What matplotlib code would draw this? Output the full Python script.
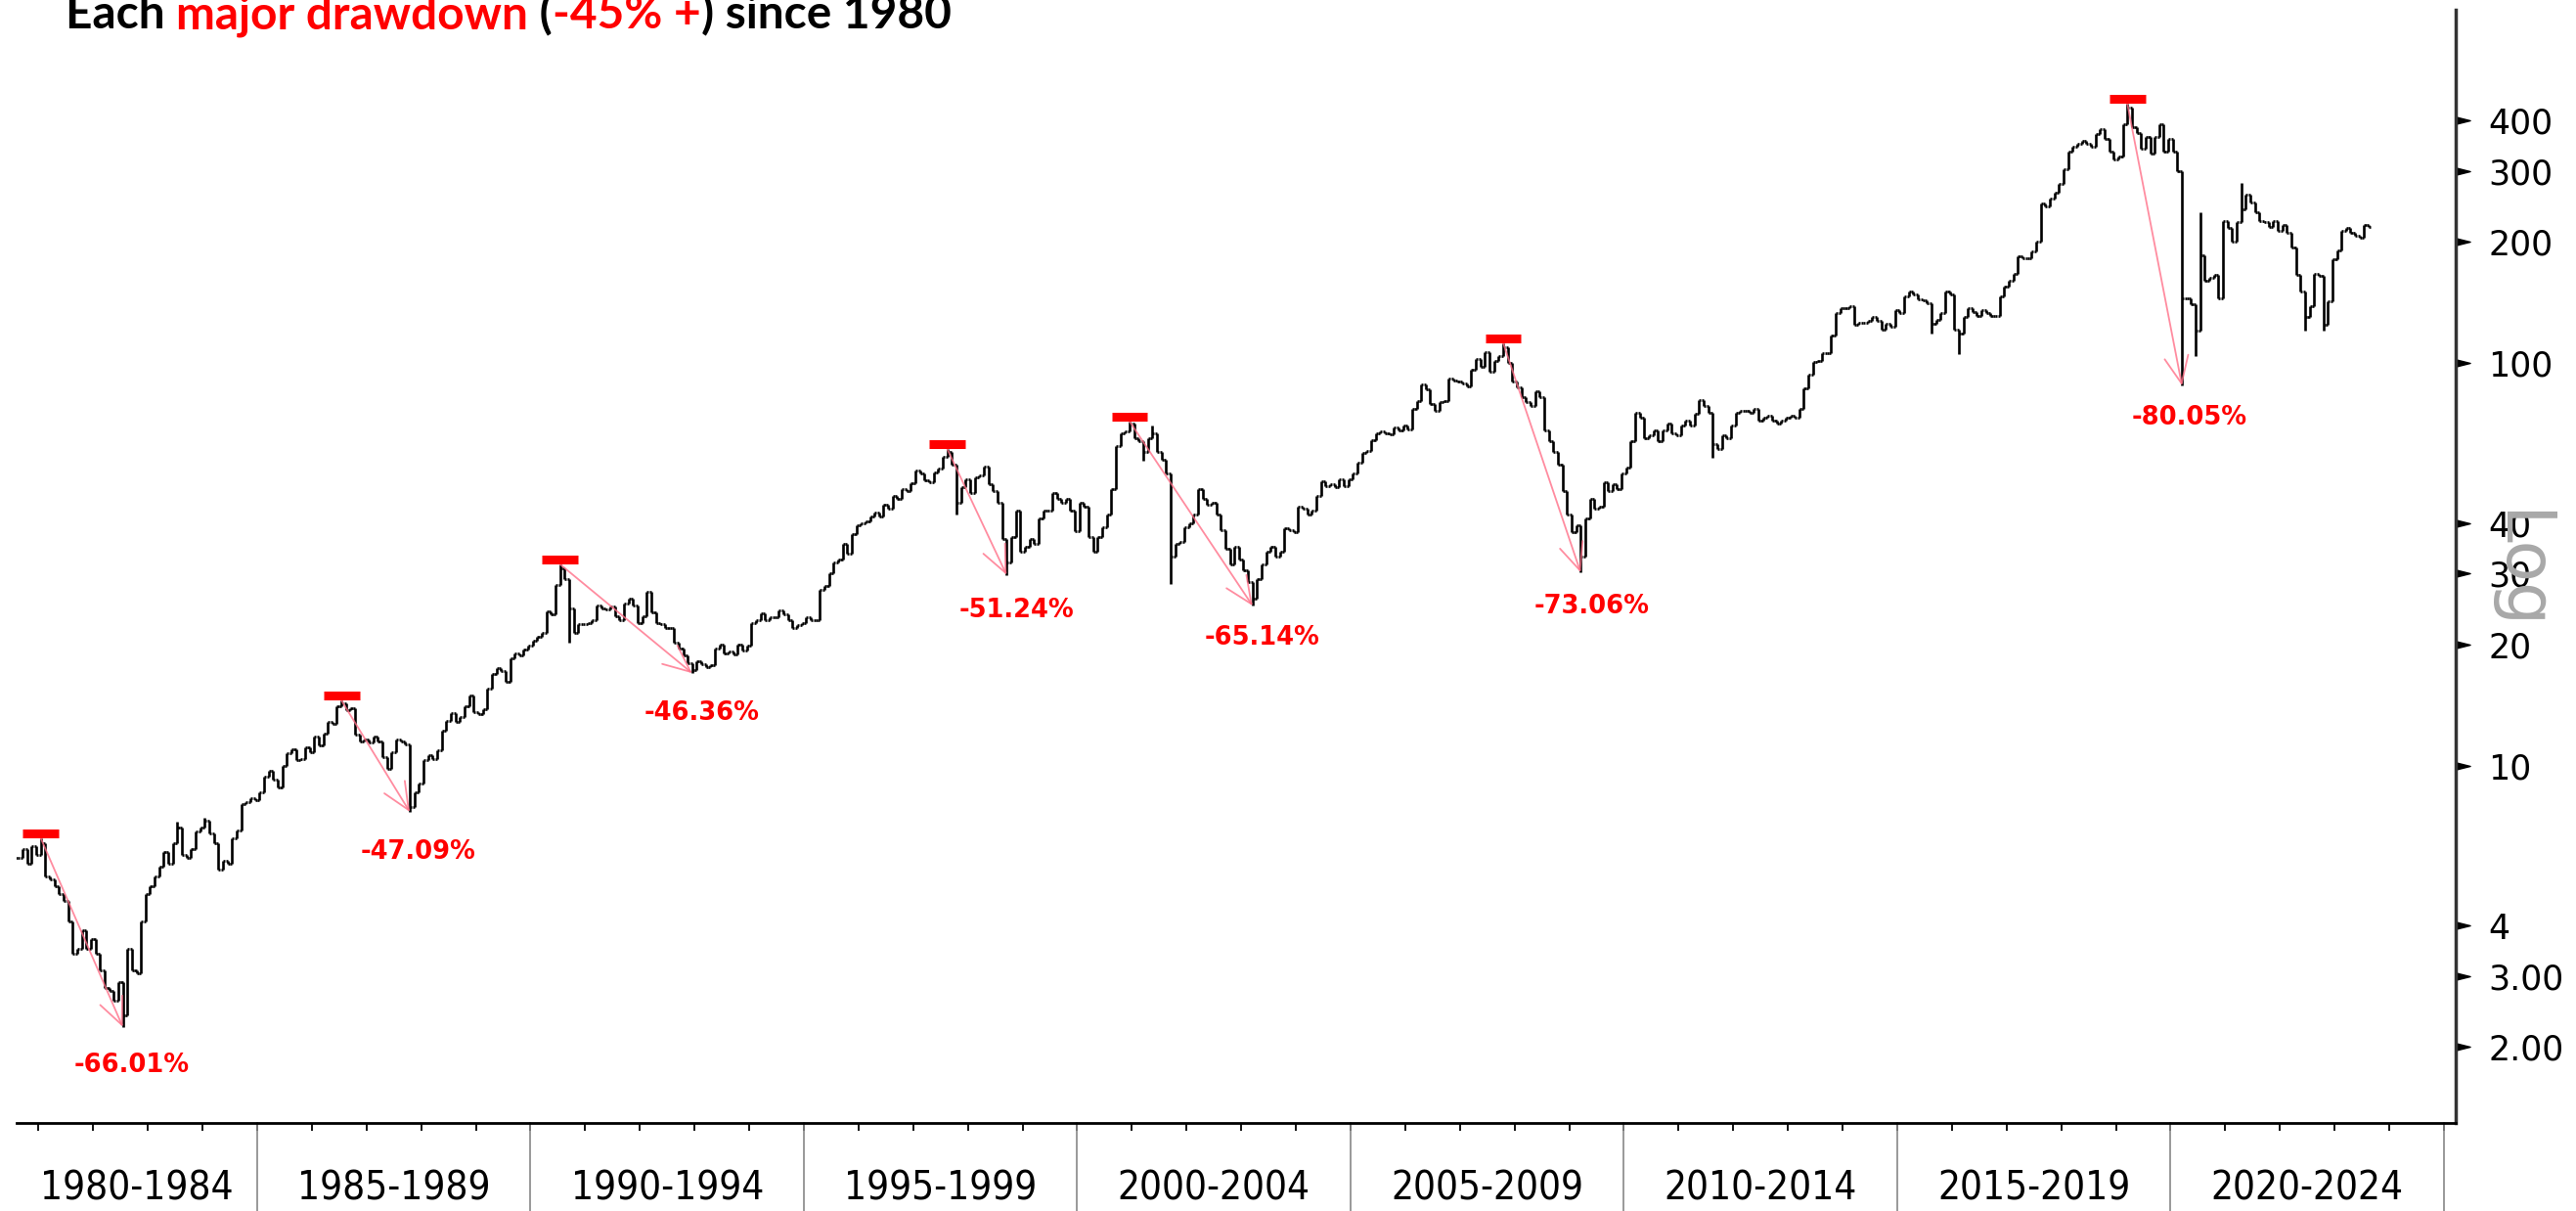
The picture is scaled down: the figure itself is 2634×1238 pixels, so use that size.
import numpy as np
import matplotlib
matplotlib.use("Agg")
import matplotlib.pyplot as plt
from matplotlib import font_manager
from matplotlib.collections import LineCollection
from matplotlib.path import Path
from matplotlib.transforms import blended_transform_factory, offset_copy

# monthly closes, Aug 1980 .. Aug 2023
close_1980s = [
    5.9, 6.2, 5.7, 6.3, 6.0,
    6.4, 5.3, 5.2, 5.0, 4.8, 4.6, 4.1, 3.4, 3.5, 3.9, 3.5, 3.7,
    3.4, 3.1, 2.8, 2.75, 2.6, 2.9, 2.4, 3.5, 3.1, 3.05, 4.1, 4.8,
    5.0, 5.3, 5.6, 6.1, 5.7, 6.4, 7.0, 6.0, 5.9, 6.2, 6.85, 7.0,
    7.3, 6.8, 6.4, 5.5, 5.8, 5.7, 6.6, 6.9, 8.0, 8.1, 8.3, 8.2,
    8.6, 9.4, 9.7, 9.2, 8.8, 10.0, 10.7, 11.0, 10.3, 10.4, 11.1, 10.8,
    11.8, 11.2, 12.0, 12.8, 12.7, 14.0, 14.3, 13.7, 13.9, 11.9, 11.5, 11.6,
    11.4, 11.8, 11.5, 10.5, 9.8, 10.8, 11.6, 11.5, 11.3, 7.9, 8.6, 9.0,
    10.3, 10.6, 10.4, 10.9, 12.2, 12.9, 13.5, 12.8, 13.2, 14.0, 14.9, 13.6,
    13.4, 13.8, 15.5, 16.9, 17.5, 17.2, 16.1, 18.5, 19.0, 18.8, 19.4, 19.8,
]
close_1990s = [
    20.4, 20.9, 21.3, 24.1, 23.8, 28.1, 30.9, 29.0, 24.5, 21.3, 22.5, 22.4,
    22.6, 22.9, 25.0, 24.5, 24.4, 24.8, 23.5, 23.0, 25.3, 26.0, 25.0, 22.6,
    23.5, 27.0, 24.0, 22.6, 22.4, 22.0, 21.9, 20.2, 19.5, 18.8, 17.9, 17.3,
    18.2, 17.8, 17.6, 17.7, 19.5, 20.0, 19.0, 19.2, 18.9, 20.0, 19.3, 19.8,
    22.6, 23.0, 23.9, 23.0, 23.3, 23.4, 24.3, 23.7, 23.0, 22.0, 22.3, 22.6,
    23.3, 23.0, 22.9, 27.3, 28.0, 30.0, 32.0, 32.5, 35.5, 33.5, 37.5, 39.5,
    40.0, 40.5, 41.5, 42.5, 41.5, 44.5, 43.5, 46.8, 46.0, 48.5, 48.0, 50.3,
    54.0, 53.0, 51.0, 50.5, 53.5, 54.5, 58.5, 60.0, 56.0, 45.0, 49.0, 51.5,
    47.5, 52.0, 52.5, 55.3, 50.0, 48.0, 45.0, 36.5, 32.0, 37.0, 43.0, 34.0,
    35.0, 36.5, 35.5, 41.0, 43.0, 43.0, 47.5, 46.0, 45.0, 46.0, 43.0, 38.2,
]
close_2000s = [
    45.0, 44.0, 37.0, 34.0, 37.0, 39.0, 42.0, 48.5, 62.0, 67.0, 67.5, 70.5,
    65.0, 64.0, 60.0, 65.0, 67.0, 60.0, 57.5, 53.0, 33.0, 35.5, 36.0, 39.0,
    40.0, 42.0, 48.5, 46.0, 44.5, 45.0, 42.0, 38.5, 34.5, 31.5, 35.0, 32.5,
    30.5, 28.5, 26.0, 29.0, 31.5, 34.0, 35.0, 33.0, 34.0, 38.8, 38.5, 38.0,
    44.0, 43.5, 42.0, 43.0, 46.8, 50.7, 49.5, 50.0, 49.0, 51.5, 49.5, 51.4,
    53.0, 56.5, 59.8, 60.5, 64.3, 67.0, 67.5, 67.0, 66.5, 69.0, 68.0, 70.0,
    68.5, 77.0, 80.4, 88.5, 86.0, 79.0, 76.0, 80.0, 80.4, 91.5, 90.5, 90.0,
    89.0, 87.5, 96.0, 102.0, 98.0, 106.5, 95.0, 101.0, 104.0, 109.5, 100.0, 90.0,
    87.0, 82.0, 80.0, 78.0, 85.0, 82.0, 68.0, 64.0, 60.0, 56.0, 48.0, 42.0,
    38.0, 39.5, 33.0, 41.0, 46.0, 43.5, 44.0, 50.6, 48.0, 50.0, 48.6, 53.0,
]
close_2010s = [
    55.0, 64.0, 75.0, 73.0, 65.0, 66.0, 68.0, 64.0, 68.0, 70.7, 67.0, 66.0,
    70.0, 72.0, 70.0, 74.7, 80.8, 78.0, 75.0, 63.0, 61.0, 66.0, 65.0, 70.0,
    75.0, 76.0, 76.0, 75.0, 77.0, 72.0, 73.0, 74.0, 72.0, 70.7, 72.0, 73.0,
    74.0, 73.0, 77.0, 86.5, 93.5, 100.5, 101.0, 106.0, 106.0, 117.0, 133.0, 137.0,
    137.0, 138.0, 124.0, 126.0, 125.6, 127.0, 130.0, 127.0, 121.0, 125.0, 123.0, 135.0,
    133.0, 146.0, 150.0, 148.0, 144.0, 143.0, 141.0, 125.0, 128.0, 133.0, 150.0, 148.0,
    121.0, 118.0, 130.0, 137.0, 134.0, 131.0, 135.0, 133.0, 131.0, 131.0, 146.0, 155.0,
    160.0, 166.0, 184.0, 182.0, 182.0, 189.0, 200.0, 249.0, 245.0, 256.0, 265.0, 278.0,
    303.0, 335.0, 345.0, 350.0, 355.0, 350.0, 344.0, 370.0, 380.0, 360.0, 335.0, 320.0,
    325.0, 392.0, 430.0, 385.0, 372.0, 340.0, 364.0, 330.0, 364.0, 392.0, 335.0, 360.0,
]
close_2020s = [
    335.0, 300.0, 145.0, 145.0, 140.0, 120.0, 185.0, 160.0, 163.0, 165.0, 145.0, 225.0,
    216.0, 200.0, 224.0, 240.0, 262.0, 250.0, 237.0, 225.0, 224.0, 218.0, 225.0, 213.0,
    220.0, 210.0, 193.0, 165.0, 150.0, 130.0, 138.0, 166.0, 164.0, 124.0, 142.0, 181.0,
    190.0, 213.0, 216.0, 210.0, 207.0, 205.0, 220.0, 217.0,
]
first_month = (1980, 8)

# intra-month extremes that stick out past the open/close
wick_high = {"1981-01": 6.6, "1983-07": 7.26, "1984-01": 7.42, "1986-07": 14.5,
             "1990-07": 31.6, "1997-08": 61.0, "2000-12": 71.5, "2001-05": 70.0,
             "2007-10": 112.0, "2019-03": 440.0, "2020-07": 236.0, "2021-04": 280.0}
wick_low = {"1982-07": 2.243, "1987-10": 7.67, "1990-09": 20.2, "1992-12": 16.95,
            "1997-10": 42.0, "1998-09": 29.74, "2001-03": 57.0, "2001-09": 28.3,
            "2003-03": 24.93, "2009-03": 30.17, "2011-08": 58.0, "2015-08": 118.0,
            "2016-02": 105.0, "2020-03": 87.8, "2020-06": 104.0, "2022-06": 120.0,
            "2022-10": 120.0}

# drawdowns: peak month, trough month, label, label position (year, value)
dd_peak = ["1981-01", "1986-07", "1990-07", "1997-08", "2000-12", "2007-10", "2019-03"]
dd_trough = ["1982-07", "1987-10", "1992-12", "1998-09", "2003-03", "2009-03", "2020-03"]
dd_label = ["-66.01%", "-47.09%", "-46.36%", "-51.24%", "-65.14%", "-73.06%", "-80.05%"]
dd_label_pos = [(1982.71, 1.80), (1987.95, 6.10), (1993.14, 13.5), (1998.90, 24.3),
                (2003.39, 20.8), (2009.42, 24.8), (2020.35, 73.1)]

y_ticks = [2, 3, 4, 10, 20, 30, 40, 100, 200, 300, 400]
y_tick_labels = ["2.00", "3.00", "4", "10", "20", "30", "40", "100", "200", "300", "400"]
period_edges = [1980, 1985, 1990, 1995, 2000, 2005, 2010, 2015, 2020, 2025]
period_labels = ["1980-1984", "1985-1989", "1990-1994", "1995-1999", "2000-2004",
                 "2005-2009", "2010-2014", "2015-2019", "2020-2024"]

title_parts = [("Each ", "black"), ("major drawdown", "red"), (" (", "black"),
               ("-45% +", "red"), (") since 1980", "black")]

# pick a narrow face for the axis labels if one is installed
fonts = font_manager.fontManager.ttflist
names = {f.name for f in fonts}
if any(f.name == "DejaVu Sans" and f.stretch == "condensed" for f in fonts):
    narrow = dict(family="DejaVu Sans", stretch="condensed")
elif "Liberation Sans Narrow" in names:
    narrow = dict(family="Liberation Sans Narrow")
else:
    narrow = dict(family="Lato")


def month_x(key):
    y, m = key.split("-")
    return int(y) + (int(m) - 0.5) / 12


closes = np.array(close_1980s + close_1990s + close_2000s + close_2010s + close_2020s)
keys = []
for i in range(len(closes)):
    k = first_month[1] - 1 + i
    keys.append(f"{first_month[0] + k // 12}-{k % 12 + 1:02d}")
xs = np.array([month_x(k) for k in keys])
opens = np.concatenate([[closes[0]], closes[:-1]])
highs = np.maximum(opens, closes)
lows = np.minimum(opens, closes)
for i, k in enumerate(keys):
    if k in wick_high:
        highs[i] = max(highs[i], wick_high[k])
    if k in wick_low:
        lows[i] = min(lows[i], wick_low[k])

fig = plt.figure(figsize=(26.34, 12.38), dpi=100)
ax = fig.add_axes([17 / 2634, 1 - 1148 / 1238, (2511 - 17) / 2634, (1148 - 10) / 1238])
ax.set_yscale("log")
ax.set_xlim(1980.60, 2025.215)
ax.set_ylim(1.295, 753)

# OHLC bars
w = 0.45 / 12
segs = []
for x, o, h, l, c in zip(xs, opens, highs, lows, closes):
    segs.append([(x, l), (x, h)])
    segs.append([(x - w, o), (x, o)])
    segs.append([(x, c), (x + w, c)])
ax.add_collection(LineCollection(segs, colors="black", linewidths=1.9, capstyle="butt"))

# drawdown markers, arrows and labels
up = offset_copy(ax.transData, fig=fig, x=0, y=5, units="dots")
for pk, tr, lab, pos in zip(dd_peak, dd_trough, dd_label, dd_label_pos):
    pi, ti = keys.index(pk), keys.index(tr)
    ax.plot([xs[pi] - 0.33, xs[pi] + 0.33], [highs[pi], highs[pi]], transform=up,
            color="#ff0000", lw=6.5, solid_capstyle="butt", zorder=4)
    ax.annotate("", xy=(xs[ti], lows[ti]), xytext=(xs[pi], highs[pi]),
                arrowprops=dict(arrowstyle="->,head_length=0.9,head_width=0.4",
                                color="#ff7088", lw=1.3, alpha=0.8,
                                shrinkA=0, shrinkB=0, mutation_scale=22),
                zorder=3)
    ax.text(pos[0], pos[1], lab, color="#ff0000", fontsize=18.5, fontweight="bold",
            ha="center", va="center", family="DejaVu Sans")

# spines
for s in ["left", "top"]:
    ax.spines[s].set_visible(False)
ax.spines["bottom"].set_linewidth(2)
ax.spines["right"].set_linewidth(2.5)
ax.spines["right"].set_color("#333333")

# y axis on the right with triangle ticks
ax.yaxis.tick_right()
ax.set_yticks(y_ticks)
ax.set_yticklabels(y_tick_labels)
ax.yaxis.set_minor_locator(matplotlib.ticker.NullLocator())
ax.tick_params(axis="y", length=0, pad=24, labelsize=25)
tri = Path([(0, -0.25), (1, 0), (0, 0.25), (0, -0.25)])
ytrans = blended_transform_factory(ax.transAxes, ax.transData)
ax.plot([1.0] * len(y_ticks), y_ticks, linestyle="none", marker=tri, markersize=21,
        color="black", transform=ytrans, clip_on=False)

# x axis: yearly ticks, period separators and labels
ax.set_xticks(np.arange(1981, 2026))
ax.set_xticklabels([])
ax.tick_params(axis="x", length=6, width=1.3, direction="out")
xtrans = blended_transform_factory(ax.transData, ax.transAxes)
for e in period_edges[1:]:
    ax.plot([e, e], [0, -0.09], color="#888888", lw=1.2, transform=xtrans, clip_on=False)
for i, lab in enumerate(period_labels):
    left = max(period_edges[i], 1980.60)
    ax.text((left + period_edges[i + 1]) / 2, -0.059, lab, transform=xtrans,
            ha="center", va="center", fontsize=29, **narrow)

fig.text(1533 * 1.68 / 2634, 1 - 583 / 1238, "Log", rotation=270, fontsize=50,
         color="#a8a8a8", ha="center", va="center")

# title made of coloured pieces
fig.canvas.draw()
renderer = fig.canvas.get_renderer()
tx = 67 / 2634
for txt, col in title_parts:
    t = fig.text(tx, 1 - 29 / 1238, txt, color=col, fontsize=34.4, fontweight="bold",
                 family="Lato", va="baseline")
    bb = t.get_window_extent(renderer)
    tx = bb.x1 / fig.bbox.width

fig.savefig("out.png", dpi=100)
